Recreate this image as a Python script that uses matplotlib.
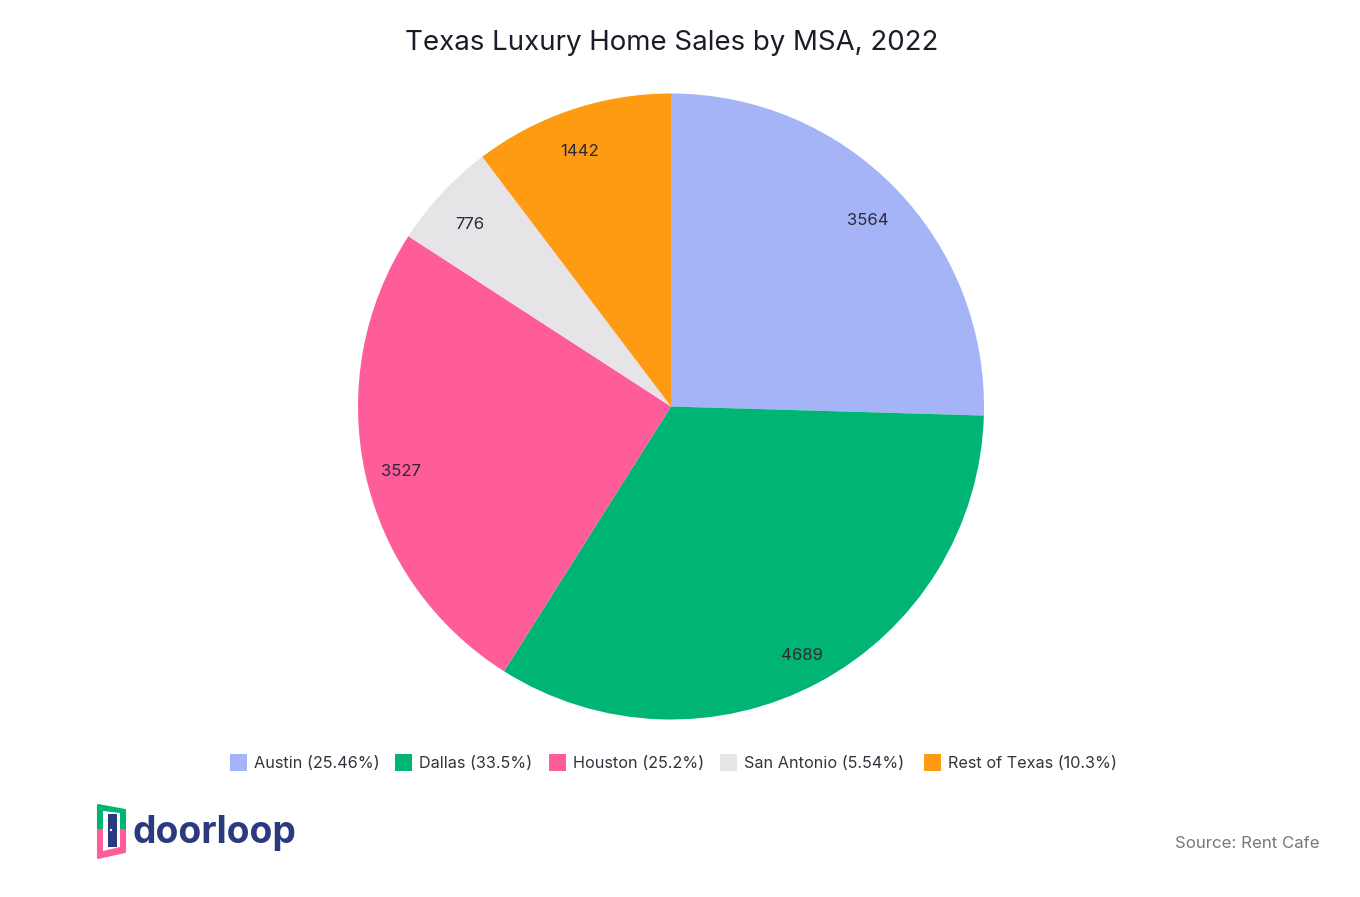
import math
from matplotlib import pyplot as plt
from matplotlib.patches import Rectangle, Polygon, Circle

labels = ['Austin', 'Dallas', 'Houston', 'San Antonio', 'Rest of Texas']
sales = [3564, 4689, 3527, 776, 1442]
shares = ['25.46%', '33.5%', '25.2%', '5.54%', '10.3%']
colors = ['#A5B4F6', '#00B574', '#FF5C9A', '#E7E4E8', '#FF9B12']

plt.rcParams['font.family'] = ['Inter', 'DejaVu Sans']

W, H = 1360, 897
fig = plt.figure(figsize=(W / 100, H / 100), dpi=100)

# pie: centre (671, 406.5), radius 313 px
r = 313
cx, cy = 671, 406.5
ax = fig.add_axes([(cx - r) / W, 1 - (cy + r) / H, 2 * r / W, 2 * r / H])
ax.pie(sales, colors=colors, startangle=90, counterclock=False, radius=1)
ax.set_xlim(-1, 1)
ax.set_ylim(-1, 1)

# value labels sit near the rim, nudged a few px to where the original has them
label_r = [0.87, 0.89, 0.885, 0.865, 0.865]
nudge_x = [1, 0, 1, -3, -5]
nudge_y = [4, 3, 5.5, 2.5, 1.5]
total = sum(sales)
cum = 0
for v, lr, nx, ny in zip(sales, label_r, nudge_x, nudge_y):
    mid = (cum + v / 2) / total * 2 * math.pi
    cum += v
    ax.text(lr * math.sin(mid) + nx / r, lr * math.cos(mid) - ny / r, str(v), fontsize=12,
            color='#2a2a33', ha='center', va='center')

fig.text(671.5 / W, 1 - 43.5 / H, 'Texas Luxury Home Sales by MSA, 2022', fontsize=19.9,
         color='#1c1c28', ha='center', va='center')

# overlay in pixel coordinates
bg = fig.add_axes([0, 0, 1, 1])
bg.set_xlim(0, W)
bg.set_ylim(H, 0)
bg.axis('off')
bg.patch.set_alpha(0)

# legend
legend_x = [230, 395, 549, 720, 924]
for x, lab, sh, c in zip(legend_x, labels, shares, colors):
    bg.add_patch(Rectangle((x, 754), 17, 17, color=c, lw=0))
    bg.text(x + 24, 764, '%s (%s)' % (lab, sh), fontsize=11.7, color='#33333d', va='center')

bg.text(1320, 843.5, 'Source: Rent Cafe', fontsize=12.1, color='#77777f', ha='right', va='center')

# logo: door frame, green on top, pink below
bg.add_patch(Polygon([(98, 805), (125, 810), (125, 830), (98, 830)], closed=True,
                     fc='#00B574', ec='#00B574', lw=1.5, joinstyle='round'))
bg.add_patch(Polygon([(98, 830), (125, 830), (125, 852), (98, 858)], closed=True,
                     fc='#FF5C9A', ec='#FF5C9A', lw=1.5, joinstyle='round'))
bg.add_patch(Polygon([(103, 811), (120, 813), (120, 847), (103, 851)], closed=True,
                     fc='white', ec='none'))
bg.add_patch(Rectangle((108, 814), 9, 33, color='#2B3A7E', lw=0))
bg.add_patch(Circle((111, 830), 1.2, color='white', lw=0))
bg.text(133, 833, 'doorloop', fontsize=26.8, fontweight='bold', color='#2B3A7E', va='center')

fig.savefig('out.png', dpi=100)
